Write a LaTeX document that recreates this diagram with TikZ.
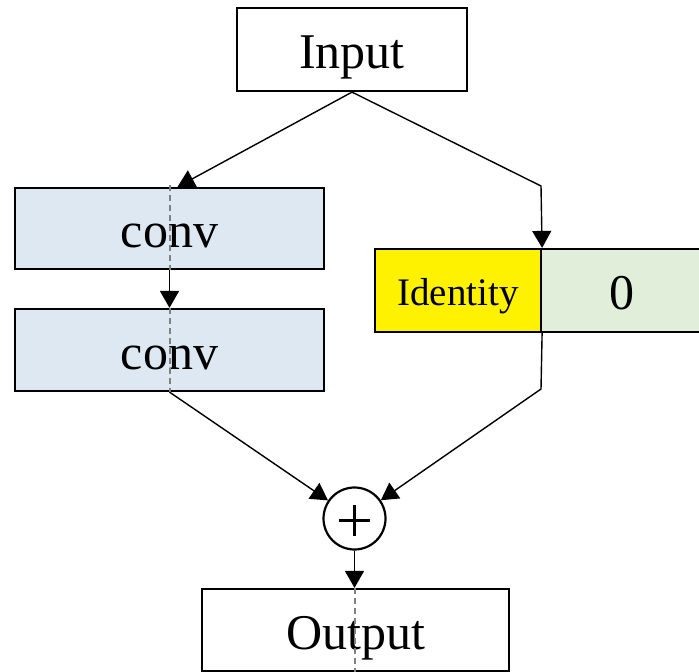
\documentclass[tikz,border=0pt]{standalone}
\usepackage{fontspec}
\setmainfont{Liberation Serif}
\usetikzlibrary{arrows.meta,calc}
\definecolor{convblue}{RGB}{222,232,242}
\definecolor{zerogreen}{RGB}{224,238,218}
\tikzset{
  box/.style={draw=black, line width=2.2pt, rectangle, inner sep=0pt, text height=38pt, text depth=0pt, font=\fontsize{50}{60}\selectfont},
  arr/.style={line width=1.4pt, -{Triangle[length=17pt,width=19pt]}},
  guide/.style={draw=gray, line width=1.2pt, dash pattern=on 6pt off 4pt},
}
\begin{document}
\begin{tikzpicture}[x=1pt,y=-1pt]
\useasboundingbox (0,0) rectangle (699,672);
\node[box, minimum width=230pt, minimum height=83pt] (input) at (352,49.5) {Input};
\node[box, fill=convblue, minimum width=309pt, minimum height=81pt] (conv1) at (169.5,228.5) {conv};
\node[box, fill=convblue, minimum width=309pt, minimum height=82pt] (conv2) at (169.5,350) {conv};
\node[box, fill=yellow, minimum width=166pt, minimum height=83pt, text height=29pt, font=\fontsize{39}{46}\selectfont] (ident) at (458,290.5) {Identity};
\node[box, fill=zerogreen, minimum width=161pt, minimum height=83pt] (zero) at (621.5,290.5) {0};
\node[draw=black, line width=2.2pt, circle, minimum size=62pt, inner sep=0pt] (plus) at (354.5,518.5) {};
\draw[line width=3.4pt] ($(plus.center)+(-15.5,2)$) -- ($(plus.center)+(15.5,2)$);
\draw[line width=3.4pt] ($(plus.center)+(0,-13.5)$) -- ($(plus.center)+(0,17.5)$);
\node[box, minimum width=307pt, minimum height=82pt] (output) at (355.5,630) {Output};
\coordinate (b1) at (541,186);
\coordinate (b2) at (541,389);
\draw[guide] (170,185) -- (conv1.south -| 170,0);
\draw[guide] (conv2.north -| 170,0) -- (conv2.south -| 170,0);
\draw[guide] (output.north -| 355,0) -- (355,672);
\draw[arr] (input.south) -- ([xshift=8pt]conv1.north);
\draw[arr] (input.south) -- (b1) -- (ident.north east);
\draw[arr] (conv1.south) -- (conv2.north);
\draw[arr] (conv2.south) -- (plus);
\draw[arr] (ident.south east) -- (b2) -- (plus);
\draw[arr] (plus.south) -- (plus.south |- output.north);
\end{tikzpicture}
\end{document}
